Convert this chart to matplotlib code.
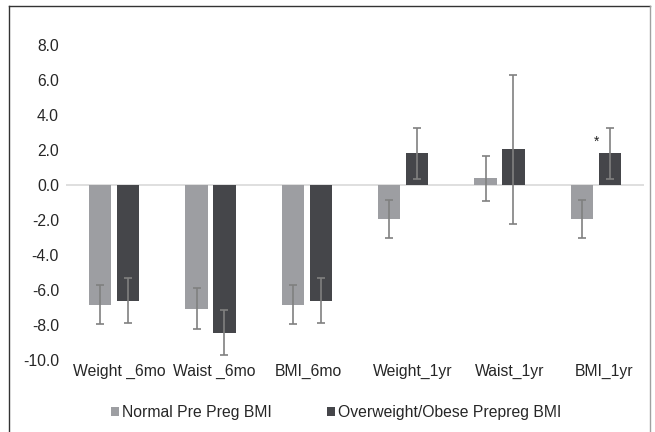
import matplotlib
matplotlib.use("Agg")
import matplotlib.pyplot as plt
import matplotlib.transforms as mtrans
import numpy as np
from matplotlib.lines import Line2D

plt.rcParams['font.family'] = ['Liberation Sans', 'DejaVu Sans']

categories = ["Weight _6mo", "Waist _6mo", "BMI_6mo", "Weight_1yr", "Waist_1yr", "BMI_1yr"]
series_names = ["Normal Pre Preg BMI", "Overweight/Obese Prepreg BMI"]
normal_vals = [-6.84, -7.07, -6.84, -1.93, 0.38, -1.93]
normal_err = [1.10, 1.18, 1.10, 1.10, 1.29, 1.10]
over_vals = [-6.61, -8.44, -6.61, 1.81, 2.04, 1.81]
over_err = [1.28, 1.27, 1.28, 1.47, 4.25, 1.47]
yticks = [-10.0, -8.0, -6.0, -4.0, -2.0, 0.0, 2.0, 4.0, 6.0, 8.0]
star_index = 5

W, H = 655, 432
fig = plt.figure(figsize=(W/100, H/100), dpi=100)
ax = fig.add_axes([66/W, 1-360/H, (644-66)/W, (360-45)/H])

x = np.arange(len(categories))
bw = 0.23
off = 0.145
c1, c2 = '#9d9ea2', '#45464a'
ecol = '#808080'
fs = 11.3
ax.axhline(0, color='#d9d9d9', lw=1.2, zorder=1)
ax.bar(x-off, normal_vals, bw, color=c1, zorder=2, label=series_names[0])
ax.bar(x+off, over_vals, bw, color=c2, zorder=2, label=series_names[1])
ax.errorbar(x-off, normal_vals, yerr=normal_err, fmt='none', ecolor=ecol, elinewidth=1.2, capsize=2.6, capthick=1.2, zorder=3)
ax.errorbar(x+off, over_vals, yerr=over_err, fmt='none', ecolor=ecol, elinewidth=1.2, capsize=2.6, capthick=1.2, zorder=3)

ax.text(x[star_index]+0.01, over_vals[star_index]+over_err[star_index]*0.45, '*', ha='center', va='center', fontsize=10, color='#222222')

ax.set_xlim(-0.5, len(categories)-0.5)
ax.set_ylim(-10, 8)
ax.set_yticks(yticks)
ax.set_yticklabels([f"{v:.1f}" for v in yticks])
ax.set_xticks(x)
ax.set_xticklabels(categories)
for s in ax.spines.values():
    s.set_visible(False)
ax.tick_params(axis='both', length=0, labelsize=fs, colors='#262626')
ax.tick_params(axis='y', pad=5)
ax.tick_params(axis='x', pad=3)

label_shift_px = [5, 4, 2, 10, 10, 8]
for lab, dx in zip(ax.get_xticklabels(), label_shift_px):
    lab.set_transform(lab.get_transform() + mtrans.ScaledTranslation(dx/100, 0, fig.dpi_scale_trans))

leg = fig.legend(loc='center', bbox_to_anchor=(336/W, 1-413/H), ncol=2, frameon=False,
                 fontsize=fs, handlelength=0.5, handleheight=0.5, handletextpad=0.2,
                 columnspacing=3.55)
for t in leg.get_texts():
    t.set_color('#262626')

fig.add_artist(Line2D([9/W, 9/W], [0, 1-6/H], transform=fig.transFigure, color='#333333', lw=1.0))
fig.add_artist(Line2D([9/W, 650/W], [1-6/H, 1-6/H], transform=fig.transFigure, color='#333333', lw=1.0))
fig.add_artist(Line2D([650/W, 650/W], [0, 1-6/H], transform=fig.transFigure, color='#a0a0a0', lw=1.0))
fig.savefig('out.png', dpi=100)
